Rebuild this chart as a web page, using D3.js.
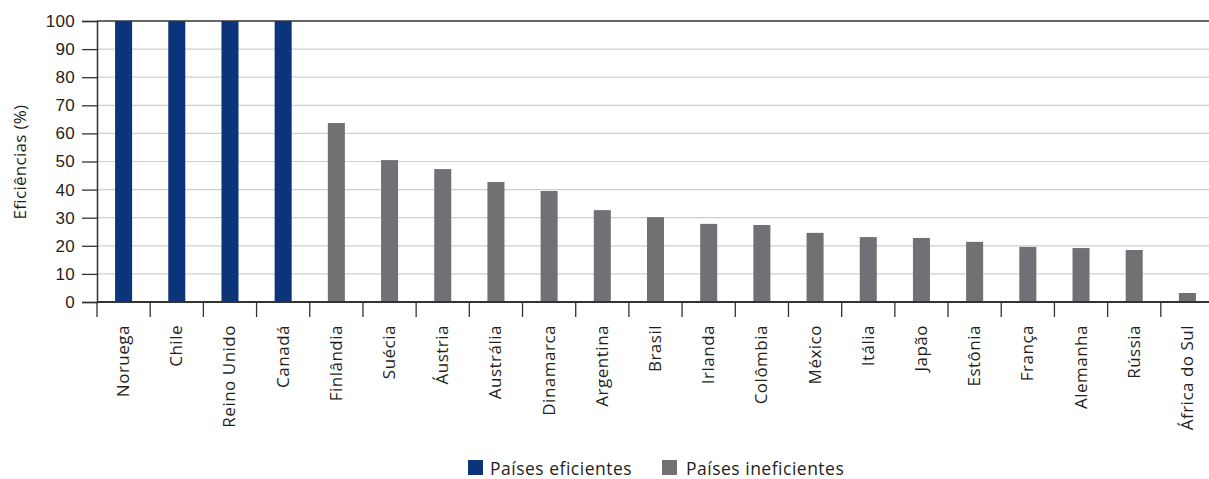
<!DOCTYPE html>
<html><head><meta charset="utf-8">
<script src="https://cdn.jsdelivr.net/npm/d3@7"></script>
<style>body{margin:0;background:#fff}svg{display:block;font-family:"Open Sans","Noto Sans",sans-serif}</style>
</head><body><svg id="c" width="1209" height="479"></svg>
<script>
const categories = ["Noruega","Chile","Reino Unido","Canadá","Finlândia","Suécia","Áustria","Austrália","Dinamarca","Argentina","Brasil","Irlanda","Colômbia","México","Itália","Japão","Estônia","França","Alemanha","Rússia","África do Sul"];
const values = [100,100,100,100,63.7,50.5,47.3,42.7,39.5,32.7,30.2,27.8,27.4,24.6,23.1,22.8,21.4,19.6,19.2,18.5,3.2];
const groups = ["ef","ef","ef","ef","in","in","in","in","in","in","in","in","in","in","in","in","in","in","in","in","in"];
const legendLabels = ["Países eficientes","Países ineficientes"];
const yTicks = [0,10,20,30,40,50,60,70,80,90,100];
const colors = {ef:"#0b347a", in:"#717175"};

const svg = d3.select("#c");
const L = 97, R = 1214, T = 21, B = 302;
const x = d3.scaleBand().domain(categories).range([L,R]).paddingInner(0.68).paddingOuter(0.34);
const y = d3.scaleLinear().domain([0,100]).range([B,T]);
const txt = "#231f20";

// grid
svg.append("g").selectAll("line").data(yTicks.filter(d=>d>0&&d<100)).join("line")
  .attr("x1",L).attr("x2",R).attr("y1",d=>y(d)).attr("y2",d=>y(d))
  .attr("stroke","#cfcfcf").attr("stroke-width",1.2);

// bars
svg.append("g").selectAll("rect").data(categories).join("rect")
  .attr("x",d=>x(d)).attr("width",x.bandwidth())
  .attr("y",(d,i)=>y(values[i])).attr("height",(d,i)=>B-y(values[i]))
  .attr("fill",(d,i)=>colors[groups[i]]);

// top line
svg.append("line").attr("x1",L).attr("x2",R).attr("y1",T).attr("y2",T).attr("stroke","#333").attr("stroke-width",1.5);

// y axis
const ya = svg.append("g").attr("transform",`translate(${L},0)`)
  .call(d3.axisLeft(y).tickValues(yTicks).tickSize(15).tickPadding(7));
ya.select(".domain").attr("stroke","#333").attr("stroke-width",1.5);
ya.selectAll(".tick line").attr("stroke","#333").attr("stroke-width",1.3);
ya.selectAll("text").attr("font-size",17).attr("letter-spacing",0.3).attr("fill",txt);

// x axis
const step = x.step();
const xa = svg.append("g").attr("transform",`translate(0,${B})`);
xa.append("line").attr("x1",L).attr("x2",R).attr("stroke","#333").attr("stroke-width",1.8);
const tickPos = d3.range(categories.length+1).map(i=>L+i*step);
xa.selectAll(".t").data(tickPos).join("line").attr("class","t")
  .attr("x1",d=>d).attr("x2",d=>d).attr("y1",0).attr("y2",15).attr("stroke","#333").attr("stroke-width",1.3);
xa.selectAll("text").data(categories).join("text")
  .attr("transform",d=>`translate(${x(d)+x.bandwidth()/2+5.5},${23}) rotate(-90)`)
  .attr("text-anchor","end").attr("font-size",17).attr("letter-spacing",0.5).attr("fill",txt).text(d=>d);

// y label
svg.append("text").attr("transform","translate(26,162) rotate(-90)").attr("text-anchor","middle")
  .attr("font-size",17).attr("letter-spacing",0.3).attr("fill",txt).text("Eficiências (%)");

// legend
const lg = [{k:"ef",x:468,tx:490},{k:"in",x:662,tx:686}];
lg.forEach((d,i)=>{
  svg.append("rect").attr("x",d.x).attr("y",460).attr("width",15).attr("height",15).attr("fill",colors[d.k]);
  svg.append("text").attr("x",d.tx).attr("y",475).attr("font-size",17.5).attr("letter-spacing",0.5).attr("fill",txt).text(legendLabels[i]);
});
</script></body></html>
